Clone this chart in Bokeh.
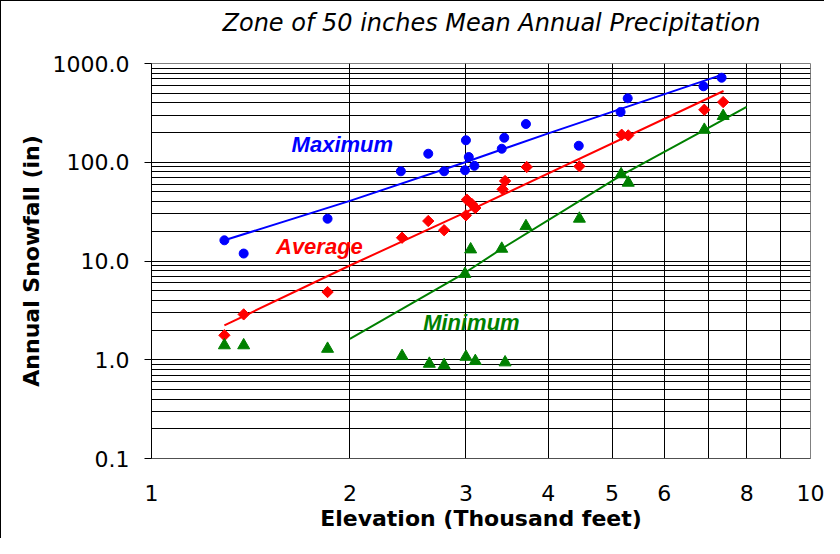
import math
from bokeh.plotting import figure
from bokeh.models import FixedTicker, Range1d, Title
from bokeh.embed import file_html
from bokeh.resources import INLINE
from bokeh.core.properties import value

# ---- data (elevation in thousand feet, snowfall in inches) ----
max_elev = [1.29, 1.38, 1.85, 2.39, 2.63, 2.78, 3.00, 3.03, 2.99, 3.09, 3.43, 3.40, 3.70, 4.45, 5.15, 5.28, 6.88, 7.33]
max_snow = [16.2, 11.9, 26.8, 81, 122, 81, 167, 113, 83, 92, 177, 137, 244, 147, 323, 444, 588, 718]

avg_elev = [1.29, 1.38, 1.85, 2.40, 2.63, 2.78, 3.01, 3.06, 3.10, 3.00, 3.44, 3.41, 3.71, 4.46, 5.17, 5.29, 6.90, 7.37]
avg_snow = [1.77, 2.88, 4.85, 17.2, 25.4, 20.5, 41.8, 38, 34.4, 29, 64.6, 53.2, 89.5, 91, 190, 187, 340, 407]

min_elev = [1.29, 1.38, 1.85, 2.40, 2.64, 2.78, 3.00, 3.10, 3.05, 2.99, 3.44, 3.40, 3.70, 4.46, 5.16, 5.29, 6.90, 7.37]
min_snow = [1.40, 1.40, 1.29, 1.09, 0.91, 0.88, 1.07, 0.97, 13.1, 7.4, 0.94, 13.3, 22.5, 26.8, 75.5, 62, 213, 294]

# trend lines
max_fit_elev = [1.29, 2.0, 3.0, 4.0, 7.35]
max_fit_snow = [16.2, 40.6, 100.6, 196, 771]
avg_fit_elev = [1.29, 2.0, 3.0, 7.38]
avg_fit_snow = [2.23, 9.0, 31.3, 527]
min_fit_elev = [2.0, 2.99, 3.40, 5.16, 6.90, 8.0]
min_fit_snow = [1.63, 7.6, 13.3, 73.8, 211, 363]

x_ticks = [1, 2, 3, 4, 5, 6, 8, 10]
x_tick_labels = ["1", "2", "3", "4", "5", "6", "8", "10"]
y_ticks = [0.1, 1, 10, 100, 1000]
y_tick_labels = ["0.1", "1.0", "10.0", "100.0", "1000.0"]

series_labels = ["Maximum", "Average", "Minimum"]
title_text = "Zone of 50 inches Mean Annual Precipitation"
x_label_text = "Elevation (Thousand feet)"
y_label_text = "Annual Snowfall (in)"

BLUE, RED, GREEN = "#0000FF", "#FF0000", "#008000"

p = figure(
    frame_width=659, frame_height=395,
    x_axis_type="log", y_axis_type="log",
    x_range=Range1d(1, 10), y_range=Range1d(0.1, 1000),
    output_backend="svg", toolbar_location=None,
    min_border_left=150, min_border_right=14, min_border_top=62, min_border_bottom=80,
    title=title_text,
)
p.styles = {"border-left": "1px solid black", "border-top": "1px solid black"}
p.background_fill_color = "white"
p.border_fill_color = "white"
p.outline_line_color = "#808080"
p.outline_line_width = 1

# title (outermost) with a thin spacer between it and the plot area
p.title.text_font = "DejaVu Sans"
p.title.text_font_style = "italic"
p.title.text_font_size = "24px"
p.title.text_color = "black"
p.title.align = "left"
p.title.offset = 71
p.title.standoff = 10
p.add_layout(Title(text=" ", text_font_size="1px", standoff=19), "above")

# x axis
p.xaxis.ticker = FixedTicker(ticks=x_ticks)
p.xaxis.major_label_overrides = {t: l for t, l in zip(x_ticks, x_tick_labels)}
p.xaxis.major_label_text_font = "DejaVu Sans"
p.xaxis.major_label_text_font_size = "22px"
p.xaxis.major_label_text_color = "black"
p.xaxis.major_label_standoff = 26
p.xaxis.major_tick_out = 0
p.xaxis.major_tick_in = 0
p.xaxis.minor_tick_out = 0
p.xaxis.minor_tick_in = 0
p.xaxis.axis_line_color = "#505050"
# x-axis title, stacked below the tick labels
p.add_layout(Title(text=x_label_text, text_font="DejaVu Sans", text_font_style="bold",
                   text_font_size="22px", text_color="black", align="center", standoff=0), "below")

# y axis
p.yaxis.ticker = FixedTicker(ticks=y_ticks)
p.yaxis.major_label_overrides = {t: l for t, l in zip(y_ticks, y_tick_labels)}
p.yaxis.axis_label = y_label_text
p.yaxis.axis_label_text_font = "DejaVu Sans"
p.yaxis.axis_label_text_font_style = "bold"
p.yaxis.axis_label_text_font_size = "22px"
p.yaxis.axis_label_text_color = "black"
p.yaxis.axis_label_standoff = 6
p.yaxis.major_label_text_font = "DejaVu Sans"
p.yaxis.major_label_text_font_size = "22px"
p.yaxis.major_label_text_color = "black"
p.yaxis.major_label_standoff = 15
p.yaxis.major_tick_out = 7
p.yaxis.major_tick_in = 0
p.yaxis.minor_tick_out = 0
p.yaxis.minor_tick_in = 0
p.yaxis.axis_line_color = "black"

# grids
p.xgrid.ticker = FixedTicker(ticks=[2, 3, 4, 5, 6, 7, 8, 9])
p.xgrid.grid_line_color = "black"
p.xgrid.grid_line_width = 1
y_grid_lines = [m * 10 ** e for e in range(-1, 3) for m in range(1, 10)][1:]
p.ygrid.ticker = FixedTicker(ticks=y_grid_lines)
p.ygrid.grid_line_color = "black"
p.ygrid.grid_line_width = 1

# trend lines
p.line(max_fit_elev, max_fit_snow, line_color=BLUE, line_width=2)
p.line(avg_fit_elev, avg_fit_snow, line_color=RED, line_width=2)
p.line(min_fit_elev, min_fit_snow, line_color=GREEN, line_width=2)

# points
p.scatter(max_elev, max_snow, marker="circle", size=9, fill_color=BLUE, line_color=BLUE)
p.scatter(avg_elev, avg_snow, marker="square", angle=math.pi / 4, size=8, fill_color=RED, line_color=RED)
p.scatter(min_elev, min_snow, marker="triangle", size=12, fill_color=GREEN, line_color=GREEN)

# series labels
label_pos = [(1.948, 153), (1.798, 13.9), (3.058, 2.41)]
for (lx, ly), txt, col in zip(label_pos, series_labels, [BLUE, RED, GREEN]):
    p.text(x=[lx], y=[ly], text=[txt], text_color=col,
           text_font=value("Liberation Sans"), text_font_style="bold italic",
           text_font_size="22px", text_align="center", text_baseline="middle")

open("out.html", "w").write(file_html(p, INLINE))
